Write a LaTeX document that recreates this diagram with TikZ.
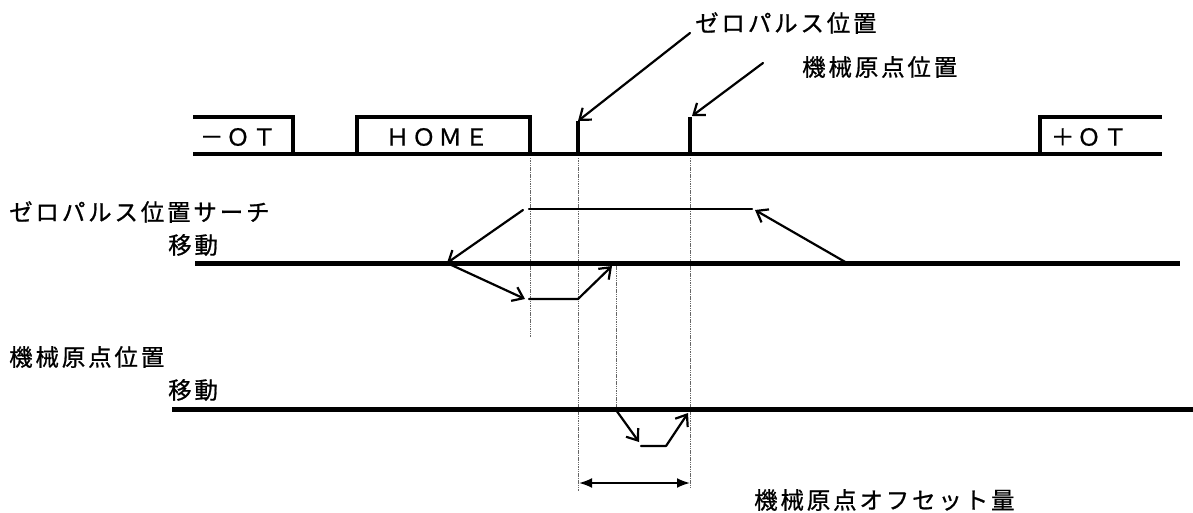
\documentclass[tikz,border=0pt]{standalone}
\usepackage{fontspec}
\setmainfont{Noto Sans CJK JP}[LetterSpace=12,FakeBold=0.8]
\usetikzlibrary{arrows.meta}
\begin{document}
\begin{tikzpicture}[x=1pt,y=-1pt,
  sig/.style={line width=4.5pt,line join=miter,line cap=rect},
  row/.style={line width=5pt},
  thin/.style={line width=2.2pt,line cap=round,line join=round},
  arr/.style={thin,-{Straight Barb[length=10pt,width=15pt,line width=2.2pt]}},
  guide/.style={line width=0.8pt,black!60,dash pattern=on 1.5pt off 0.8pt},
  dim/.style={line width=2pt,{Latex[length=13pt,width=10pt]}-{Latex[length=13pt,width=10pt]}},
  lbl/.style={inner sep=0pt,font=\fontsize{23.5}{23.5}\selectfont},
  every node/.style={lbl}]
\useasboundingbox (0,0) rectangle (1193,513);
% ---- top signal ----
\coordinate (b0) at (195,154); \coordinate (b1) at (1160,154);
\coordinate (m1) at (195,117); \coordinate (m2) at (293,117); \coordinate (m3) at (293,154);
\coordinate (h0) at (357,154); \coordinate (h1) at (357,117); \coordinate (h2) at (530,117); \coordinate (h3) at (530,154);
\coordinate (z0) at (578,154); \coordinate (z1) at (578,123);
\coordinate (o0) at (690,154); \coordinate (o1) at (690,119);
\coordinate (p0) at (1040,154); \coordinate (p1) at (1040,117); \coordinate (p2) at (1160,117);
\draw[sig] (b0) -- (b1);
\draw[sig] (m1) -- (m2) -- (m3);
\draw[sig] (h0) -- (h1) -- (h2) -- (h3);
\draw[sig] (z0) -- (z1);
\draw[sig] (o0) -- (o1);
\draw[sig] (p0) -- (p1) -- (p2);
\node (tmot) at (238,137) {－ＯＴ};
\node (thome) at (437,137) {ＨＯＭＥ};
\node (tpot) at (1089,137) {＋ＯＴ};
% ---- callouts ----
\node[anchor=west] (tzero) at (695,23) {ゼロパルス位置};
\node[anchor=west] (torig) at (802,67) {機械原点位置};
\coordinate (cz) at (690,33); \coordinate (cza) at (578,121);
\coordinate (co) at (763,63); \coordinate (coa) at (692,116);
\draw[arr] (cz) -- (cza);
\draw[arr] (co) -- (coa);
% ---- guides ----
\coordinate (g1a) at (530,158); \coordinate (g1b) at (530,337);
\coordinate (g2a) at (578,158); \coordinate (g2b) at (578,491);
\coordinate (g3a) at (616,266); \coordinate (g3b) at (616,408);
\coordinate (g4a) at (690,158); \coordinate (g4b) at (690,489);
\draw[guide] (g1a) -- (g1b);
\draw[guide] (g2a) -- (g2b);
\draw[guide] (g3a) -- (g3b);
\draw[guide] (g4a) -- (g4b);
% ---- row 2 ----
\node[anchor=west] (tsearch) at (9,212) {ゼロパルス位置サーチ};
\node[anchor=west] (tmove1) at (168,245) {移動};
\coordinate (r2a) at (195,263); \coordinate (r2b) at (1180,263);
\draw[row] (r2a) -- (r2b);
\coordinate (u0) at (529,209); \coordinate (u1) at (752,209);
\draw[thin] (u0) -- (u1);
\coordinate (s0) at (523,210); \coordinate (s1) at (447,263);
\draw[arr] (s0) -- (s1);
\coordinate (s2) at (525,299);
\draw[arr] (s1) -- (s2);
\coordinate (l0) at (529,299); \coordinate (l1) at (578,299); \coordinate (l2) at (612,266);
\draw[arr] (l0) -- (l1) -- (l2);
\coordinate (q0) at (847,263); \coordinate (q1) at (755,210);
\draw[arr] (q0) -- (q1);
% ---- row 3 ----
\node[anchor=west] (torig2) at (9,357) {機械原点位置};
\node[anchor=west] (tmove2) at (168,390) {移動};
\coordinate (r3a) at (172,409); \coordinate (r3b) at (1193,409);
\draw[row] (r3a) -- (r3b);
\coordinate (d0) at (616,410); \coordinate (d1) at (639,442);
\draw[arr] (d0) -- (d1);
\coordinate (e0) at (641,446); \coordinate (e1) at (666,446); \coordinate (e2) at (688,413);
\draw[arr] (e0) -- (e1) -- (e2);
% ---- offset dimension ----
\coordinate (k0) at (579,483); \coordinate (k1) at (690,483);
\draw[dim] (k0) -- (k1);
\node[anchor=west] (toff) at (754,500) {機械原点オフセット量};
\end{tikzpicture}
\end{document}
